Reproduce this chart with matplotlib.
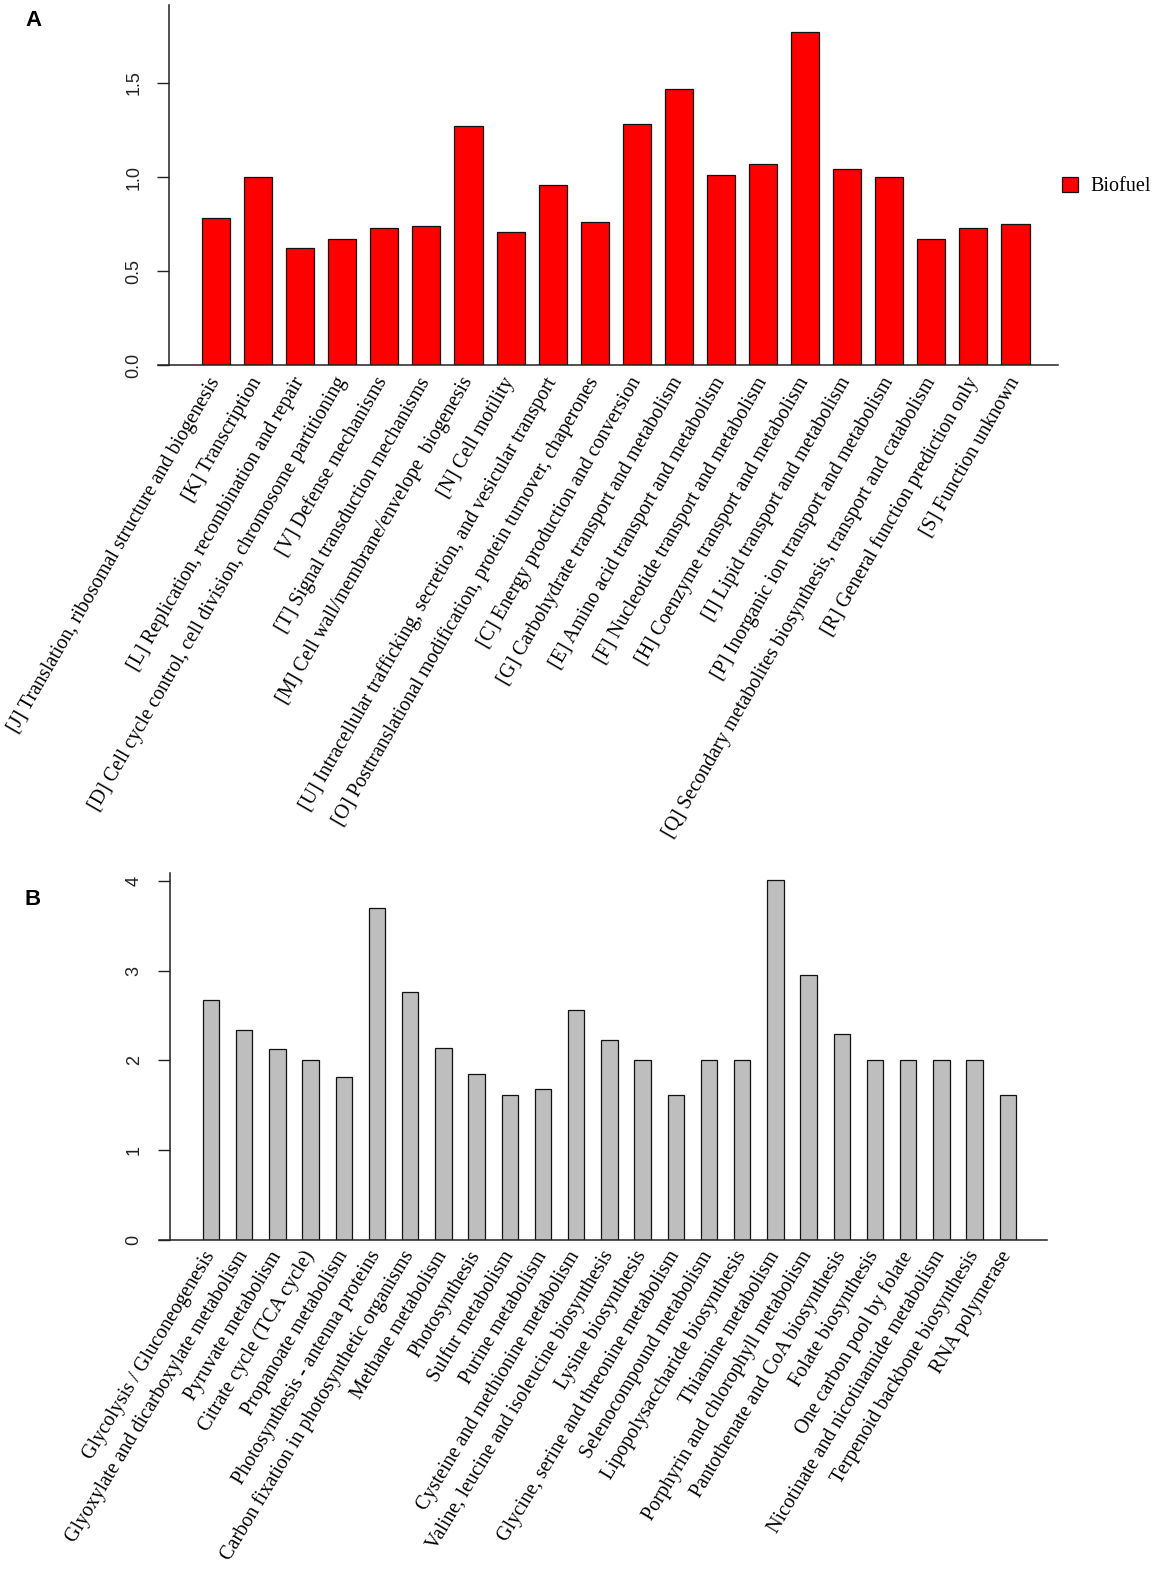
import matplotlib
matplotlib.use("Agg")
import matplotlib.pyplot as plt
from matplotlib.patches import Patch

# ---------------- data ----------------
cog_labels = [
    "[J] Translation, ribosomal structure and biogenesis",
    "[K] Transcription",
    "[L] Replication, recombination and repair",
    "[D] Cell cycle control, cell division, chromosome partitioning",
    "[V] Defense mechanisms",
    "[T] Signal transduction mechanisms",
    "[M] Cell wall/membrane/envelope  biogenesis",
    "[N] Cell motility",
    "[U] Intracellular trafficking, secretion, and vesicular transport",
    "[O] Posttranslational modification, protein turnover, chaperones",
    "[C] Energy production and conversion",
    "[G] Carbohydrate transport and metabolism",
    "[E] Amino acid transport and metabolism",
    "[F] Nucleotide transport and metabolism",
    "[H] Coenzyme transport and metabolism",
    "[I] Lipid transport and metabolism",
    "[P] Inorganic ion transport and metabolism",
    "[Q] Secondary metabolites biosynthesis, transport and catabolism",
    "[R] General function prediction only",
    "[S] Function unknown",
]
cog_values = [0.78, 1.00, 0.62, 0.67, 0.73, 0.74, 1.27, 0.71, 0.96, 0.76,
              1.28, 1.47, 1.01, 1.07, 1.77, 1.04, 1.00, 0.67, 0.73, 0.75]
cog_series = "Biofuel"
cog_ticks = [0.0, 0.5, 1.0, 1.5]
cog_ticklabels = ["0.0", "0.5", "1.0", "1.5"]

kegg_labels = [
    "Glycolysis / Gluconeogenesis",
    "Glyoxylate and dicarboxylate metabolism",
    "Pyruvate metabolism",
    "Citrate cycle (TCA cycle)",
    "Propanoate metabolism",
    "Photosynthesis - antenna proteins",
    "Carbon fixation in photosynthetic organisms",
    "Methane metabolism",
    "Photosynthesis",
    "Sulfur metabolism",
    "Purine metabolism",
    "Cysteine and methionine metabolism",
    "Valine, leucine and isoleucine biosynthesis",
    "Lysine biosynthesis",
    "Glycine, serine and threonine metabolism",
    "Selenocompound metabolism",
    "Lipopolysaccharide biosynthesis",
    "Thiamine metabolism",
    "Porphyrin and chlorophyll metabolism",
    "Pantothenate and CoA biosynthesis",
    "Folate biosynthesis",
    "One carbon pool by folate",
    "Nicotinate and nicotinamide metabolism",
    "Terpenoid backbone biosynthesis",
    "RNA polymerase",
]
kegg_values = [2.67, 2.34, 2.13, 2.00, 1.82, 3.70, 2.76, 2.14, 1.85, 1.61,
               1.68, 2.56, 2.23, 2.00, 1.61, 2.00, 2.00, 4.01, 2.95, 2.29,
               2.00, 2.00, 2.00, 2.00, 1.61]
kegg_ticks = [0, 1, 2, 3, 4]
kegg_ticklabels = ["0", "1", "2", "3", "4"]

# ---------------- layout ----------------
W, H = 1158, 1574
SERIF = ["Liberation Serif", "DejaVu Serif"]
SANS = ["Liberation Sans", "DejaVu Sans"]
TICKCOL = "#222222"

fig = plt.figure(figsize=(W / 100, H / 100), dpi=100)


def box(left, right, top, bottom):
    return [left / W, 1 - bottom / H, (right - left) / W, (bottom - top) / H]


def style_axes(ax, ticks, ticklabels, labels, ext_px, label_fs, pad, rot):
    for s in ("top", "right", "bottom"):
        ax.spines[s].set_visible(False)
    ax.spines["left"].set_linewidth(1.1)
    ax.spines["left"].set_color("#222222")
    ax.set_yticks(ticks)
    ax.set_yticklabels(ticklabels, family=SANS, fontsize=13, color=TICKCOL)
    ax.tick_params(axis="y", direction="out", length=8.3, width=1.0,
                   color="#222222", pad=11, labelrotation=90)
    for t in ax.get_yticklabels():
        t.set_verticalalignment("center")
    ax.set_xticks(range(len(labels)))
    ax.set_xticklabels(labels, rotation=rot, ha="right", va="center",
                       rotation_mode="anchor", family=SERIF,
                       fontsize=label_fs, color="black")
    ax.tick_params(axis="x", length=0, pad=pad)
    ax_w = ax.get_position().width * W
    ax.axhline(0, xmin=-ext_px / ax_w, xmax=1, color="#222222",
               lw=1.1, clip_on=False, zorder=3)


# Panel A
axA = fig.add_axes(box(169, 1058, 5, 365))
axA.bar(range(len(cog_values)), cog_values, width=0.667, color="#FF0000",
        edgecolor="#111111", linewidth=0.9, zorder=2)
axA.set_xlim(-1.117, 20.01)
axA.set_ylim(0, 1.915)
style_axes(axA, cog_ticks, cog_ticklabels, cog_labels, 11, 14.5, 10, 60)

fig.legend(handles=[Patch(facecolor="#FF0000", edgecolor="#111111", linewidth=0.9)],
           labels=[cog_series], loc="center left",
           bbox_to_anchor=(1062 / W, 1 - 186.5 / H), frameon=False,
           prop={"family": SERIF, "size": 14.5}, handlelength=0.8,
           handleheight=0.8, handletextpad=0.6, borderpad=0, borderaxespad=0)

# Panel B
axB = fig.add_axes(box(169.5, 1047, 872.7, 1240))
axB.bar(range(len(kegg_values)), kegg_values, width=0.49, color="#BEBEBE",
        edgecolor="#111111", linewidth=0.9, zorder=2)
axB.set_xlim(-1.25, 25.18)
axB.set_ylim(0, 4.09)
style_axes(axB, kegg_ticks, kegg_ticklabels, kegg_labels, 11, 14.5, 9, 59)

fig.text(25 / W, 1 - 20 / H, "A", family=SANS, fontweight="bold",
         fontsize=16, va="center", ha="left")
fig.text(25 / W, 1 - 900 / H, "B", family=SANS, fontweight="bold",
         fontsize=16, va="center", ha="left")

fig.savefig("out.png", dpi=100, facecolor="white")
